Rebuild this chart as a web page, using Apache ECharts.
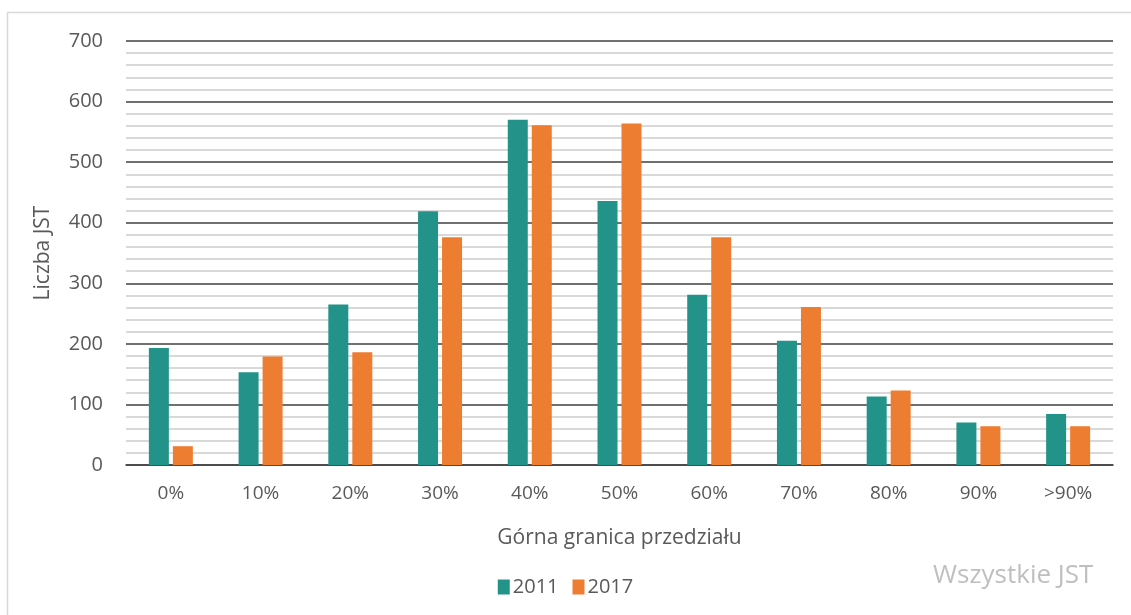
<!DOCTYPE html>
<html>
<head>
<meta charset="utf-8">
<script src="https://cdn.jsdelivr.net/npm/echarts@6/dist/echarts.min.js"></script>
<style>
  html, body { margin: 0; padding: 0; background: #fff; }
  #chart { width: 1131px; height: 615px; }
</style>
</head>
<body>
<div id="chart"></div>
<script>
// Upper bound of each percentage bracket
const categories = ['0%', '10%', '20%', '30%', '40%', '50%', '60%', '70%', '80%', '90%', '>90%'];
// Number of local government units (JST) per bracket
const values2011 = [193, 153, 265, 419, 570, 436, 281, 205, 113, 70, 84];
const values2017 = [31, 179, 186, 376, 561, 564, 376, 261, 123, 64, 64];
const seriesNames = ['2011', '2017'];
const yTicks = [0, 100, 200, 300, 400, 500, 600, 700];

const FONT = 'Open Sans';
const TEXT = '#595959';

const chart = echarts.init(document.getElementById('chart'));
chart.setOption({
  animation: false,
  textStyle: { fontFamily: FONT },
  graphic: [
    {
      type: 'rect',
      shape: { x: 7.5, y: 12.5, width: 1130, height: 610 },
      style: { fill: 'none', stroke: '#d9d9d9', lineWidth: 1.5 },
      z: -1
    },
    {
      type: 'text',
      left: 933, top: 563,
      style: { text: 'Wszystkie JST', fill: '#bfbfbf', font: '26px ' + FONT }
    }
  ],
  grid: { left: 126, right: 18, top: 41, bottom: 150 },
  legend: {
    data: seriesNames,
    bottom: 13,
    left: 'center',
    itemWidth: 12, itemHeight: 15, itemGap: 14,
    icon: 'rect',
    textStyle: { color: TEXT, fontSize: 20, fontFamily: FONT, padding: [0, 0, 0, -2] }
  },
  xAxis: {
    type: 'category',
    data: categories,
    name: 'Górna granica przedziału',
    nameLocation: 'middle',
    nameGap: 63,
    nameTextStyle: { color: TEXT, fontSize: 21, fontFamily: FONT },
    axisLine: { lineStyle: { color: '#404040', width: 1.5 } },
    axisTick: { show: false },
    axisLabel: { color: TEXT, fontSize: 19, margin: 19, fontFamily: FONT }
  },
  yAxis: {
    type: 'value',
    min: yTicks[0],
    max: yTicks[yTicks.length - 1],
    interval: 100,
    name: 'Liczba JST',
    nameLocation: 'middle',
    nameGap: 72,
    nameTextStyle: { color: TEXT, fontSize: 21, fontFamily: FONT },
    axisLine: { show: false },
    axisTick: { show: false },
    axisLabel: { color: TEXT, fontSize: 20, margin: 23, fontFamily: FONT },
    splitLine: { lineStyle: { color: '#404040', width: 1.5 } },
    minorTick: { show: false, splitNumber: 5 },
    minorSplitLine: { show: true, lineStyle: { color: '#d9d9d9', width: 2 } }
  },
  series: [
    {
      name: seriesNames[0],
      type: 'bar',
      data: values2011,
      barWidth: 20,
      barGap: '20%',
      itemStyle: { color: '#23938A' }
    },
    {
      name: seriesNames[1],
      type: 'bar',
      data: values2017,
      barWidth: 20,
      itemStyle: { color: '#ED7D31' }
    }
  ]
});
</script>
</body>
</html>
